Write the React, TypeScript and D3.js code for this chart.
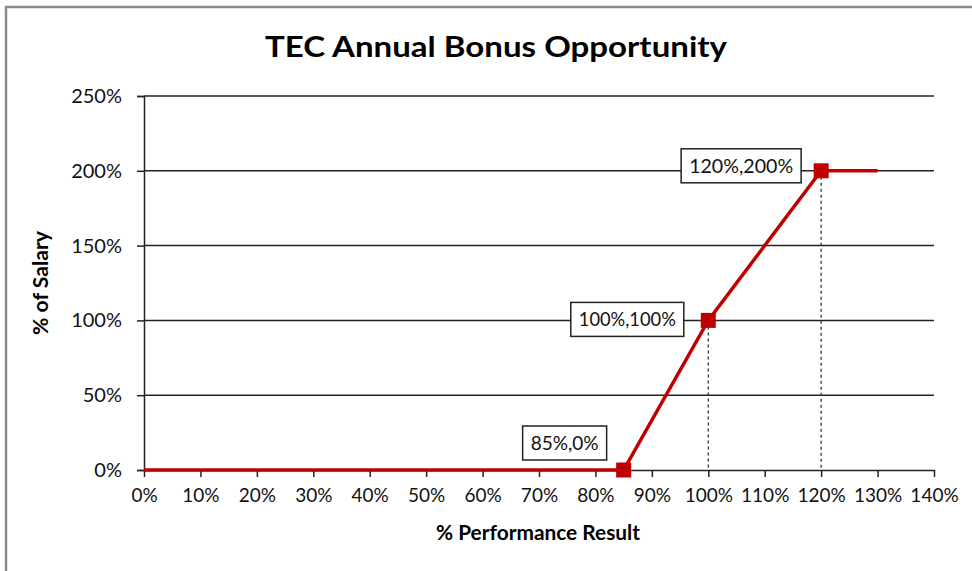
import React, { useEffect, useRef } from 'react';
import * as d3 from 'd3';

const xTicks = [0, 10, 20, 30, 40, 50, 60, 70, 80, 90, 100, 110, 120, 130, 140];
const yTicks = [0, 50, 100, 150, 200, 250];
const perfResult = [0, 85, 100, 120, 130];
const salaryPct = [0, 0, 100, 200, 200];
const markerIdx = [1, 2, 3];
const dropIdx = [2, 3];
const labelText = ['85%,0%', '100%,100%', '120%,200%'];

const W = 972;
const H = 571;
const FONT = 'Lato, "Open Sans", sans-serif';
const RED = '#c00000';

export default function App() {
  const ref = useRef<SVGSVGElement>(null);

  useEffect(() => {
    if (!ref.current) return;
    const svg = d3.select(ref.current);
    svg.selectAll('*').remove();

    const margin = { top: 96, right: 38, bottom: 101, left: 144 };
    const x = d3.scaleLinear().domain([0, 140]).range([margin.left, W - margin.right]);
    const y = d3.scaleLinear().domain([0, 250]).range([H - margin.bottom, margin.top]);

    svg.append('rect').attr('width', W).attr('height', H).attr('fill', '#fff');

    // outer frame
    svg.append('path')
      .attr('d', `M6,${H} V7 H${W}`)
      .attr('fill', 'none')
      .attr('stroke', '#8a8a8a')
      .attr('stroke-width', 2.5);

    // title
    svg.append('text')
      .attr('x', 496).attr('y', 57)
      .attr('text-anchor', 'middle')
      .attr('font-family', FONT)
      .attr('font-weight', 'bold')
      .attr('font-size', 29)
      .attr('textLength', 462)
      .attr('lengthAdjust', 'spacingAndGlyphs')
      .text('TEC Annual Bonus Opportunity');

    // gridlines
    svg.append('g')
      .selectAll('line')
      .data(yTicks.filter(d => d > 0))
      .join('line')
      .attr('x1', x(0)).attr('x2', x(140))
      .attr('y1', d => y(d)).attr('y2', d => y(d))
      .attr('stroke', '#222').attr('stroke-width', 1.5);

    // y axis
    const yAxis = svg.append('g')
      .attr('transform', `translate(${x(0)},0)`)
      .call(d3.axisLeft(y).tickValues(yTicks).tickSize(7).tickPadding(15).tickFormat(d => `${d}%`));
    yAxis.select('.domain').attr('stroke', '#222').attr('stroke-width', 1.5);
    yAxis.selectAll('.tick line').attr('stroke', '#222').attr('stroke-width', 1.5);
    yAxis.selectAll('text').attr('font-family', FONT).attr('font-size', 20).attr('fill', '#111');

    // x axis
    const xAxis = svg.append('g')
      .attr('transform', `translate(0,${y(0)})`)
      .call(d3.axisBottom(x).tickValues(xTicks).tickSize(7).tickSizeOuter(0).tickPadding(12).tickFormat(d => `${d}%`));
    xAxis.select('.domain').attr('stroke', '#222').attr('stroke-width', 1.5);
    xAxis.selectAll('.tick line').attr('stroke', '#222').attr('stroke-width', 1.5);
    xAxis.selectAll('text').attr('font-family', FONT).attr('font-size', 19).attr('fill', '#111');

    // axis titles
    svg.append('text')
      .attr('transform', `translate(48,${(y(0) + y(250)) / 2}) rotate(-90)`)
      .attr('text-anchor', 'middle')
      .attr('font-family', FONT).attr('font-weight', 'bold').attr('font-size', 20)
      .attr('textLength', 104).attr('lengthAdjust', 'spacingAndGlyphs')
      .text('% of Salary');
    svg.append('text')
      .attr('x', 538).attr('y', 540)
      .attr('text-anchor', 'middle')
      .attr('font-family', FONT).attr('font-weight', 'bold').attr('font-size', 20)
      .attr('textLength', 204).attr('lengthAdjust', 'spacingAndGlyphs')
      .text('% Performance Result');

    // drop lines
    svg.append('g')
      .selectAll('line')
      .data(dropIdx)
      .join('line')
      .attr('x1', i => x(perfResult[i])).attr('x2', i => x(perfResult[i]))
      .attr('y1', i => y(salaryPct[i])).attr('y2', y(0))
      .attr('stroke', '#333').attr('stroke-width', 1.3).attr('stroke-dasharray', '3,3');

    // series line
    const pts = perfResult.map((p, i) => [p, salaryPct[i]] as [number, number]);
    const line = d3.line<[number, number]>().x(d => x(d[0])).y(d => y(d[1]));
    svg.append('path')
      .attr('d', line(pts))
      .attr('fill', 'none')
      .attr('stroke', RED)
      .attr('stroke-width', 3.5);

    // markers
    const ms = 15;
    svg.append('g')
      .selectAll('rect')
      .data(markerIdx)
      .join('rect')
      .attr('x', i => x(perfResult[i]) - ms / 2)
      .attr('y', i => y(salaryPct[i]) - ms / 2)
      .attr('width', ms).attr('height', ms)
      .attr('fill', RED);

    // data labels (box centre offsets from marker)
    const offsets = [[-59, -27], [-81, -1], [-80, -5]];
    const boxW = [84, 113, 120];
    markerIdx.forEach((i, k) => {
      const cx = x(perfResult[i]) + offsets[k][0];
      const cy = y(salaryPct[i]) + offsets[k][1];
      const g = svg.append('g');
      g.append('rect')
        .attr('x', cx - boxW[k] / 2).attr('y', cy - 17)
        .attr('width', boxW[k]).attr('height', 34)
        .attr('fill', '#fff').attr('stroke', '#222').attr('stroke-width', 1.5);
      g.append('text')
        .attr('x', cx).attr('y', cy + 7)
        .attr('text-anchor', 'middle')
        .attr('font-family', FONT).attr('font-size', 19).attr('fill', '#111')
        .attr('textLength', boxW[k] - 16).attr('lengthAdjust', 'spacingAndGlyphs')
        .text(labelText[k]);
    });
  }, []);

  return (
    <svg
      ref={ref}
      width={W}
      height={H}
      style={{ display: 'block', position: 'absolute', left: 0, top: 0 }}
    />
  );
}
